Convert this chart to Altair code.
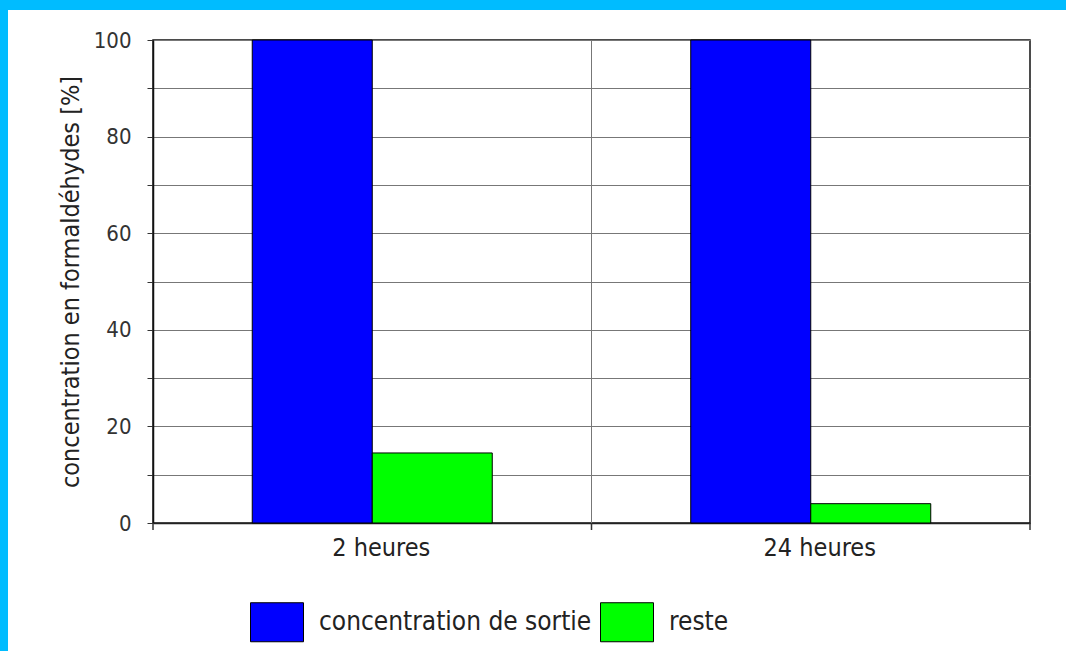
import altair as alt
import pandas as pd

# Durées de mesure et séries
periodes = ["2 heures", "24 heures"]
series = ["concentration de sortie", "reste"]
sortie = [100, 100]
reste = [14.5, 4]

couleurs = ["#0000FF", "#00FF00"]

rows = []
for i, p in enumerate(periodes):
    rows.append({"periode": p, "serie": series[0], "valeur": sortie[i]})
    rows.append({"periode": p, "serie": series[1], "valeur": reste[i]})
df = pd.DataFrame(rows)

W, H = 877, 483
FONT = "DejaVu Sans Condensed, Liberation Sans, sans-serif"
CYAN = "#00BCFF"

x_scale = alt.Scale(domain=periodes, paddingInner=0, paddingOuter=0)
x_axis = alt.Axis(title=None, labelAngle=0, ticks=False, grid=False,
                  domainColor="#222", domainWidth=1.5,
                  labelFont=FONT, labelFontSize=25, labelColor="#222",
                  labelPadding=12, labelOffset=9)

bars = alt.Chart(df).mark_bar(stroke="black", strokeWidth=1).encode(
    x=alt.X("periode:N", scale=x_scale, sort=periodes, axis=x_axis),
    xOffset=alt.XOffset("serie:N", sort=series,
                        scale=alt.Scale(paddingInner=0, paddingOuter=0.827)),
    y=alt.Y("valeur:Q",
            scale=alt.Scale(domain=[0, 100], nice=False),
            axis=alt.Axis(title="concentration en formaldéhydes [%]",
                          values=list(range(0, 101, 10)),
                          labelExpr="datum.value % 20 == 0 ? datum.label : ''",
                          grid=True, gridColor="#777", gridWidth=1,
                          tickSize=6, tickColor="#333",
                          domainColor="#111", domainWidth=1.5,
                          labelFont=FONT, labelFontSize=22, labelColor="#333",
                          labelPadding=16,
                          titleFont=FONT, titleFontSize=25, titleColor="#222",
                          titleFontWeight="normal", titlePadding=10)),
    color=alt.Color("serie:N", sort=series,
                    scale=alt.Scale(domain=series, range=couleurs),
                    legend=alt.Legend(orient="none", legendX=97, legendY=555,
                                      direction="horizontal", title=None,
                                      symbolType="M-1,-0.736H1V0.736H-1Z",
                                      symbolSize=2809, symbolStrokeColor="black",
                                      symbolStrokeWidth=1, symbolOpacity=1,
                                      labelFont=FONT, labelFontSize=26,
                                      labelColor="#222", labelOffset=15,
                                      labelLimit=0, columnPadding=6)),
)

# Séparateur vertical entre les deux durées
sep_df = pd.DataFrame({"periode": periodes[1:]})
separateur = alt.Chart(sep_df).mark_rule(color="#777", strokeWidth=1).encode(
    x=alt.X("periode:N", bandPosition=0, scale=x_scale, sort=periodes, axis=x_axis),
    y=alt.value(0), y2=alt.value(H),
)

# Graduations de l'axe horizontal aux limites des catégories
bornes_df = pd.DataFrame({"periode": periodes})
grad_debut = alt.Chart(bornes_df).mark_rule(color="#333", strokeWidth=1.5).encode(
    x=alt.X("periode:N", bandPosition=0, scale=x_scale, sort=periodes, axis=x_axis),
    y=alt.value(H), y2=alt.value(H + 7),
)
grad_fin = alt.Chart(pd.DataFrame({"periode": periodes[-1:]})).mark_rule(
    color="#333", strokeWidth=1.5).encode(
    x=alt.X("periode:N", bandPosition=1, scale=x_scale, sort=periodes, axis=x_axis),
    y=alt.value(H), y2=alt.value(H + 7),
)

# Cadre cyan en haut et à gauche
un = pd.DataFrame({"k": [0]})
bord_haut = alt.Chart(un).mark_rect(color=CYAN).encode(
    x=alt.value(-153), x2=alt.value(W + 36), y=alt.value(-40), y2=alt.value(-30))
bord_gauche = alt.Chart(un).mark_rect(color=CYAN).encode(
    x=alt.value(-153), x2=alt.value(-145), y=alt.value(-40), y2=alt.value(H + 128))

chart = alt.layer(bars, separateur, grad_debut, grad_fin, bord_haut, bord_gauche).properties(
    width=W, height=H,
    autosize=alt.AutoSizeParams(type="none"),
    padding={"left": 153, "top": 40, "right": 36, "bottom": 128},
    background="white",
).configure_view(stroke="#111", strokeWidth=1.5)

chart.save("out.html", embed_options={"renderer": "svg", "actions": False})
